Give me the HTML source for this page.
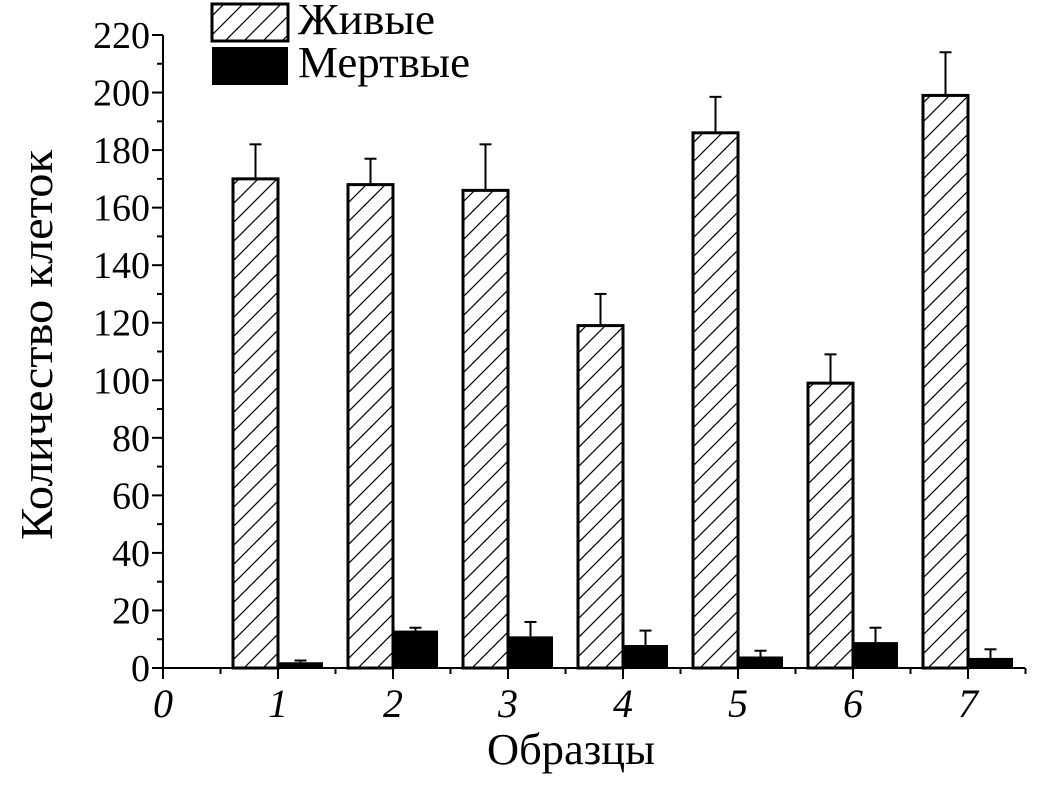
<!DOCTYPE html>
<html><head><meta charset="utf-8"><style>
body{margin:0;background:#fff}
svg text{font-family:"Liberation Serif",serif;fill:#000}
</style></head><body>
<svg id="chart" width="1042" height="788" xmlns="http://www.w3.org/2000/svg">
<defs><pattern id="hatch" patternUnits="userSpaceOnUse" width="19" height="19">
<path d="M-2,21 L21,-2 M-2,2 L2,-2 M17,21 L21,17" stroke="#000" stroke-width="1.2"/></pattern></defs>
<g id="plot"></g>
<g>
<rect x="212" y="4" width="76" height="37" fill="url(#hatch)" stroke="#000" stroke-width="3"/>
<text x="298" y="34" font-size="44" textLength="137" lengthAdjust="spacingAndGlyphs">Живые</text>
<rect x="212" y="47" width="76" height="38" fill="#000"/>
<text x="298" y="77" font-size="44" textLength="172" lengthAdjust="spacingAndGlyphs">Мертвые</text>
</g>
<text x="487" y="764" font-size="44" textLength="168" lengthAdjust="spacingAndGlyphs">Образцы</text>
<text transform="translate(52,345) rotate(-90)" font-size="46" text-anchor="middle" textLength="390" lengthAdjust="spacingAndGlyphs">Количество клеток</text>
</svg>
<script>
const categories = [1,2,3,4,5,6,7];
const liveValues = [170,168,166,119,186,99,199];
const liveErrors = [12,9,16,11,12.5,10,15];
const deadValues = [2,13,11,8,4,9,3.5];
const deadErrors = [0.6,1,5,5,2,5,3];
const yTicks = [0,20,40,60,80,100,120,140,160,180,200,220];
const xTicks = [0,1,2,3,4,5,6,7];

const NS="http://www.w3.org/2000/svg";
const g=document.getElementById('plot');
const X0=163, XS=115, Y0=668, YS=633/220;
const xs=v=>X0+v*XS, ys=v=>Y0-v*YS;
function el(t,a){const e=document.createElementNS(NS,t);for(const k in a)e.setAttribute(k,a[k]);g.appendChild(e);return e;}
const BW=45;
function errbar(cx,v,e){
  el('line',{x1:cx,x2:cx,y1:ys(v),y2:ys(v+e),stroke:'#000','stroke-width':2});
  el('line',{x1:cx-6,x2:cx+6,y1:ys(v+e),y2:ys(v+e),stroke:'#000','stroke-width':2});
}
categories.forEach((c,i)=>{
  const cx=xs(c);
  errbar(cx-BW/2,liveValues[i],liveErrors[i]);
  errbar(cx+BW/2,deadValues[i],deadErrors[i]);
  const b=el('rect',{x:cx-BW,y:ys(liveValues[i]),width:BW,height:Y0-ys(liveValues[i]),fill:'url(#hatch)',stroke:'#000','stroke-width':3});
  
  
  const d=el('rect',{x:cx,y:ys(deadValues[i]),width:BW,height:Y0-ys(deadValues[i]),fill:'#000'});
  
  
});
const ya=el('line',{x1:X0,x2:X0,y1:ys(220),y2:Y0+1,stroke:'#000','stroke-width':2});


const xa=el('line',{x1:X0-1,x2:1025,y1:Y0,y2:Y0,stroke:'#000','stroke-width':2});


yTicks.forEach(v=>{
  el('line',{x1:X0-11,x2:X0,y1:ys(v),y2:ys(v),stroke:'#000','stroke-width':2});
  if(v<220) el('line',{x1:X0-6,x2:X0,y1:ys(v+10),y2:ys(v+10),stroke:'#000','stroke-width':2});
  const t=el('text',{x:X0-13,y:ys(v)+13,'font-size':38,'text-anchor':'end'});
  t.textContent=v;
  
  
});
xTicks.forEach(v=>{
  el('line',{x1:xs(v),x2:xs(v),y1:Y0,y2:Y0+11,stroke:'#000','stroke-width':2});
  el('line',{x1:xs(v+0.5),x2:xs(v+0.5),y1:Y0,y2:Y0+6,stroke:'#000','stroke-width':2});
  const t=el('text',{x:xs(v),y:717,'font-size':40,'text-anchor':'middle','font-style':'italic'});
  t.textContent=v;
  
  
});
</script>
</body></html>
